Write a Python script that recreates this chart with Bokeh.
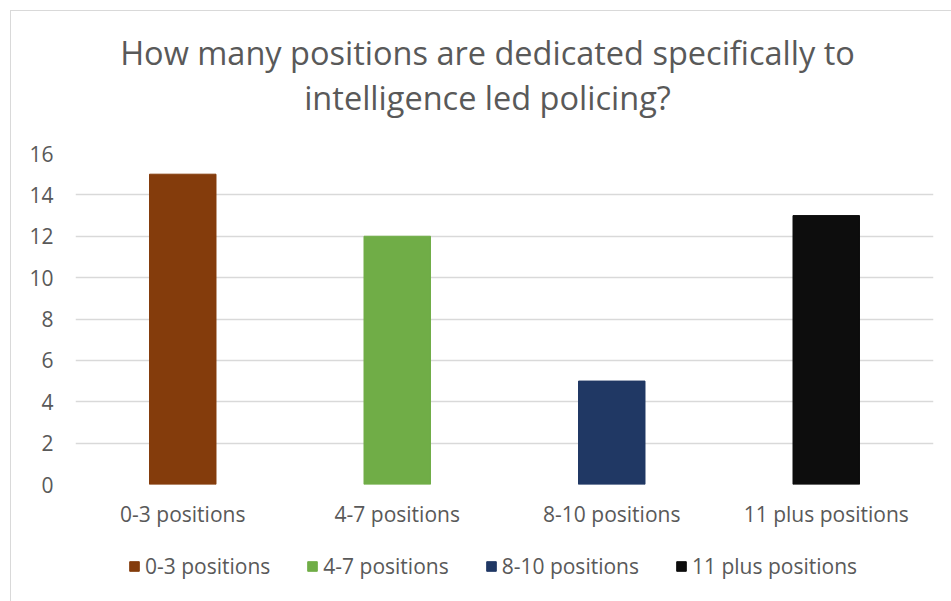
from bokeh.plotting import figure
from bokeh.layouts import column
from bokeh.models import Legend, LegendItem, ColumnDataSource, FixedTicker, Range1d
from bokeh.core.properties import value
from bokeh.embed import file_html
from bokeh.resources import INLINE

categories = ["0-3 positions", "4-7 positions", "8-10 positions", "11 plus positions"]
counts = [15, 12, 5, 13]
colors = ["#843C0C", "#70AD47", "#203864", "#0D0D0D"]
y_ticks = [0, 2, 4, 6, 8, 10, 12, 14, 16]
title_lines = ["How many positions are dedicated specifically to",
               "intelligence led policing?"]

FONT = "Open Sans"
TXT = "#595959"
W = 940
LEFT, RIGHT = 64, 18   # plot frame borders (frames of the column are aligned)

source = ColumnDataSource(data=dict(x=categories, top=counts, color=colors))


def bare(fig):
    fig.xaxis.visible = False
    fig.yaxis.visible = False
    fig.grid.visible = False
    fig.outline_line_color = None
    return fig


# ---- title block (x in pixels of the whole chart width) ----
pt = bare(figure(width=W, height=130, x_range=Range1d(LEFT, W - RIGHT),
                 y_range=Range1d(0, 130),
                 output_backend="svg", toolbar_location=None, min_border=0))
pt.text(x=[476, 476], y=[130 - 41, 130 - 86], text=title_lines,
        text_font=value(FONT), text_font_size="32.5px", text_color=TXT,
        text_align="center", text_baseline="middle")

# ---- main chart ----
p = figure(x_range=categories, y_range=Range1d(0, 16),
           width=W, height=399,
           output_backend="svg", toolbar_location=None,
           min_border_left=LEFT, min_border_right=RIGHT,
           min_border_top=12, min_border_bottom=56)
p.outline_line_color = None

r = p.vbar(x="x", top="top", width=0.31, color="color", source=source)

p.xgrid.grid_line_color = None
p.ygrid.grid_line_color = "#d9d9d9"
p.ygrid.grid_line_width = 1.3
p.yaxis.ticker = FixedTicker(ticks=y_ticks)

for ax in (p.xaxis, p.yaxis):
    ax.axis_line_color = None
    ax.major_tick_line_color = None
    ax.minor_tick_line_color = None
    ax.major_tick_out = 0
    ax.major_tick_in = 0
    ax.major_label_text_font = FONT
    ax.major_label_text_color = TXT

p.yaxis.major_label_text_font_size = "21px"
p.xaxis.major_label_text_font_size = "21px"
p.yaxis.major_label_standoff = 22
p.xaxis.major_label_standoff = 15

# ---- legend block ----
pl = bare(figure(width=W, height=61, x_range=categories, y_range=Range1d(100, 101),
                 output_backend="svg", toolbar_location=None, min_border=0))
rl = pl.vbar(x="x", top="top", width=0.31, color="color", source=source)
items = [LegendItem(label=c, renderers=[rl], index=i) for i, c in enumerate(categories)]
legend = Legend(items=items, orientation="horizontal", location=(53, 21),
                label_text_font=FONT, label_text_font_size="21px",
                label_text_color=TXT, glyph_width=12, glyph_height=12,
                label_standoff=5, spacing=36, padding=0, margin=0,
                border_line_color=None, background_fill_alpha=0)
pl.add_layout(legend, "center")

layout = column(pt, p, pl, spacing=0)
layout.margin = (10, 0, 0, 10)
layout.styles = {"border-left": "1px solid #d9d9d9", "border-top": "1px solid #d9d9d9"}

open("out.html", "w").write(file_html(layout, INLINE))
